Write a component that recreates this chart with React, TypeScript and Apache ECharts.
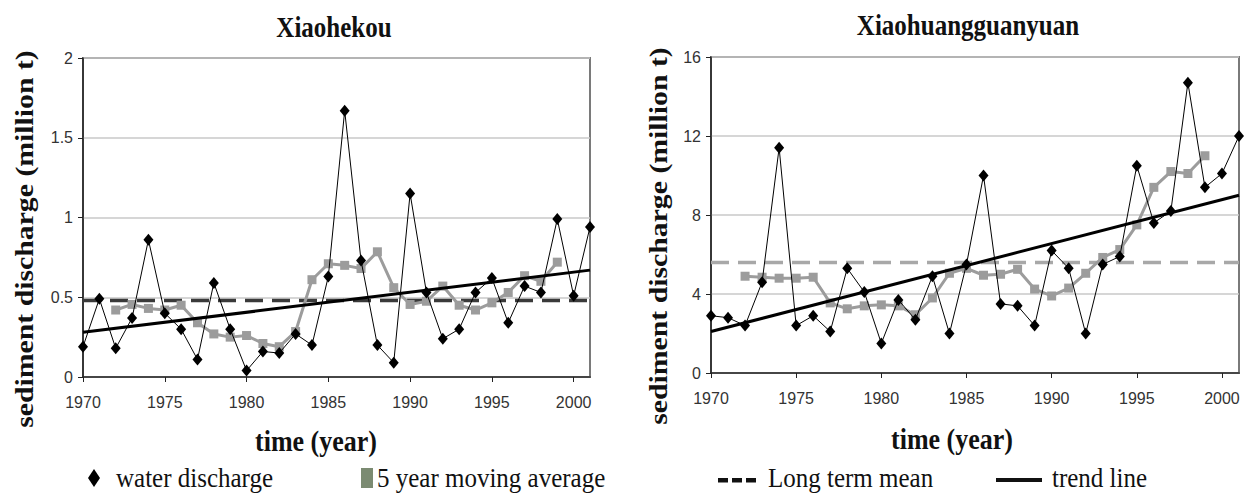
import React, { useEffect, useRef } from "react";
import * as echarts from "echarts";

// Years covered by the annual series
const years: number[] = [
  1970, 1971, 1972, 1973, 1974, 1975, 1976, 1977, 1978, 1979, 1980, 1981, 1982, 1983, 1984, 1985,
  1986, 1987, 1988, 1989, 1990, 1991, 1992, 1993, 1994, 1995, 1996, 1997, 1998, 1999, 2000, 2001,
];
// Years covered by the centred 5-year moving average
const maYears: number[] = years.slice(2, 30);

// Xiaohekou station (million t)
const xhkDischarge: number[] = [
  0.19, 0.49, 0.18, 0.37, 0.86, 0.4, 0.3, 0.11, 0.59, 0.3, 0.04, 0.16, 0.15, 0.27, 0.2, 0.63,
  1.67, 0.73, 0.2, 0.09, 1.15, 0.53, 0.24, 0.3, 0.53, 0.62, 0.34, 0.57, 0.53, 0.99, 0.51, 0.94,
];
const xhkMovingAvg: number[] = [
  0.42, 0.455, 0.43, 0.42, 0.45, 0.34, 0.27, 0.25, 0.26, 0.21, 0.19, 0.285, 0.61, 0.71, 0.7, 0.68,
  0.785, 0.56, 0.455, 0.475, 0.57, 0.45, 0.42, 0.465, 0.53, 0.635, 0.6, 0.72,
];
const xhkMean = 0.48;
const xhkTrend: number[] = [0.28, 0.67]; // values at 1970 and 2001

// Xiaohuangguanyuan station (million t)
const xhgDischarge: number[] = [
  2.9, 2.8, 2.4, 4.6, 11.4, 2.4, 2.9, 2.1, 5.3, 4.1, 1.5, 3.7, 2.7, 4.9, 2.0, 5.5,
  10.0, 3.5, 3.4, 2.4, 6.2, 5.3, 2.0, 5.5, 5.9, 10.5, 7.6, 8.2, 14.7, 9.4, 10.1, 12.0,
];
const xhgMovingAvg: number[] = [
  4.9, 4.85, 4.8, 4.8, 4.85, 3.55, 3.25, 3.4, 3.45, 3.4, 2.95, 3.8, 5.05, 5.3, 4.95, 5.0,
  5.25, 4.25, 3.9, 4.3, 5.05, 5.85, 6.25, 7.5, 9.4, 10.2, 10.1, 11.0,
];
const xhgMean = 5.6;
const xhgTrend: number[] = [2.1, 9.0];

const titles: string[] = ["Xiaohekou", "Xiaohuangguanyuan"];
const yAxisTitle = "sediment discharge (million t)";
const xAxisTitle = "time (year)";
const legendLabels: string[] = ["water discharge", "5 year moving average", "Long term mean", "trend line"];

const X_MIN = 1970;
const X_MAX = 2001;

const pairs = (xs: number[], ys: number[]) => xs.map((x, i) => [x, ys[i]]);

const SERIF = "'Liberation Serif', 'Times New Roman', serif";
const SANS = "'Liberation Sans', Arial, sans-serif";

function panelSeries(
  idx: number,
  discharge: number[],
  ma: number[],
  mean: number,
  trend: number[],
  meanColor: string
): any[] {
  return [
    {
      type: "line",
      xAxisIndex: idx,
      yAxisIndex: idx,
      data: [
        [X_MIN, mean],
        [X_MAX, mean],
      ],
      symbol: "none",
      lineStyle: { color: meanColor, width: 3.5, type: [18, 9] },
      z: 2,
      silent: true,
    },
    {
      type: "line",
      xAxisIndex: idx,
      yAxisIndex: idx,
      data: pairs(maYears, ma),
      symbol: "rect",
      symbolSize: 9,
      itemStyle: { color: "#9c9c9c" },
      lineStyle: { color: "#9c9c9c", width: 3 },
      z: 3,
    },
    {
      type: "line",
      xAxisIndex: idx,
      yAxisIndex: idx,
      data: [
        [X_MIN, trend[0]],
        [X_MAX, trend[1]],
      ],
      symbol: "none",
      lineStyle: { color: "#000", width: 3 },
      z: 4,
    },
    {
      type: "line",
      xAxisIndex: idx,
      yAxisIndex: idx,
      data: pairs(years, discharge),
      symbol: "diamond",
      symbolSize: [10, 12],
      itemStyle: { color: "#000" },
      lineStyle: { color: "#000", width: 1 },
      z: 5,
    },
  ];
}

function xAxisCfg(gridIndex: number) {
  return {
    type: "value",
    gridIndex,
    min: X_MIN,
    max: X_MAX,
    interval: 5,
    axisLine: { show: true, lineStyle: { color: "#222", width: 1.5 } },
    axisTick: { show: true, length: 5, lineStyle: { color: "#222" } },
    axisLabel: {
      show: true,
      margin: 17,
      color: "#333",
      fontFamily: SANS,
      fontSize: 16,
      showMaxLabel: false,
      formatter: (v: number) => String(v),
    },
    splitLine: { show: false },
  };
}

function yAxisCfg(gridIndex: number, max: number, interval: number) {
  return {
    type: "value",
    gridIndex,
    min: 0,
    max,
    interval,
    axisLine: { show: true, lineStyle: { color: "#222", width: 1.5 } },
    axisTick: { show: true, length: 5, lineStyle: { color: "#222" } },
    axisLabel: { show: true, margin: 10, color: "#333", fontFamily: SANS, fontSize: 16 },
    splitLine: { show: true, lineStyle: { color: "#c8c8c8", width: 1.5 } },
  };
}

function label(text: string, x: number, y: number, font: string, opts: any = {}) {
  return {
    type: "text",
    x,
    y,
    rotation: opts.rotation || 0,
    scaleX: opts.scaleX || 1,
    scaleY: opts.scaleY || 1,
    silent: true,
    style: {
      text,
      font,
      fill: opts.fill || "#111",
      textAlign: opts.align || "center",
      textVerticalAlign: "middle",
    },
  };
}

export default function App() {
  const ref = useRef<HTMLDivElement>(null);

  useEffect(() => {
    if (!ref.current) return;
    const chart = echarts.init(ref.current, null, { renderer: "svg" });

    const grids = [
      { left: 83, top: 58, width: 507, height: 319 },
      { left: 711, top: 57, width: 528, height: 316 },
    ];

    const titleFont = `bold 25px ${SERIF}`;
    const axisNameFont = `bold 26px ${SERIF}`;
    const legendFont = `25px ${SERIF}`;
    const legendY = 478;

    const graphics: any[] = [
      label(titles[0], 334, 27, titleFont, { scaleY: 1.15 }),
      label(titles[1], 968, 25, titleFont, { scaleY: 1.15 }),
      label(yAxisTitle, 25, 239, titleFont, { rotation: Math.PI / 2, scaleX: 1.19 }),
      label(yAxisTitle, 659, 236, titleFont, { rotation: Math.PI / 2, scaleX: 1.19 }),
      label(xAxisTitle, 316, 441, axisNameFont, { scaleY: 1.12 }),
      label(xAxisTitle, 952, 439, axisNameFont, { scaleY: 1.12 }),
      // legend keys
      {
        type: "polygon",
        silent: true,
        shape: {
          points: [
            [94, legendY - 9],
            [100, legendY],
            [94, legendY + 9],
            [88, legendY],
          ],
        },
        style: { fill: "#000" },
      },
      label(legendLabels[0], 116, legendY, legendFont, { align: "left", scaleY: 1.1 }),
      {
        type: "rect",
        silent: true,
        shape: { x: 361, y: legendY - 10, width: 12, height: 20 },
        style: { fill: "#7b8b72" },
      },
      label(legendLabels[1], 377, legendY, legendFont, { align: "left", scaleY: 1.1 }),
      ...[0, 1, 2].map((i) => ({
        type: "rect",
        silent: true,
        shape: { x: 718 + i * 14, y: legendY, width: 10, height: 4.5 },
        style: { fill: "#111" },
      })),
      label(legendLabels[2], 768, legendY, legendFont, { align: "left", scaleY: 1.1 }),
      {
        type: "rect",
        silent: true,
        shape: { x: 996, y: legendY, width: 46, height: 4 },
        style: { fill: "#111" },
      },
      label(legendLabels[3], 1052, legendY, legendFont, { align: "left", scaleY: 1.1 }),
    ];

    chart.setOption({
      animation: false,
      backgroundColor: "#fff",
      grid: grids.map((g) => ({
        ...g,
        show: true,
        borderColor: "#7a7a7a",
        borderWidth: 2,
        backgroundColor: "transparent",
        containLabel: false,
      })),
      xAxis: [xAxisCfg(0), xAxisCfg(1)],
      yAxis: [yAxisCfg(0, 2, 0.5), yAxisCfg(1, 16, 4)],
      series: [
        ...panelSeries(0, xhkDischarge, xhkMovingAvg, xhkMean, xhkTrend, "#3a3a3a"),
        ...panelSeries(1, xhgDischarge, xhgMovingAvg, xhgMean, xhgTrend, "#a8a8a8"),
      ],
      graphic: graphics,
    });

    return () => chart.dispose();
  }, []);

  return (
    <div
      ref={ref}
      style={{ position: "fixed", left: 0, top: 0, width: 1245, height: 496, background: "#fff" }}
    />
  );
}
